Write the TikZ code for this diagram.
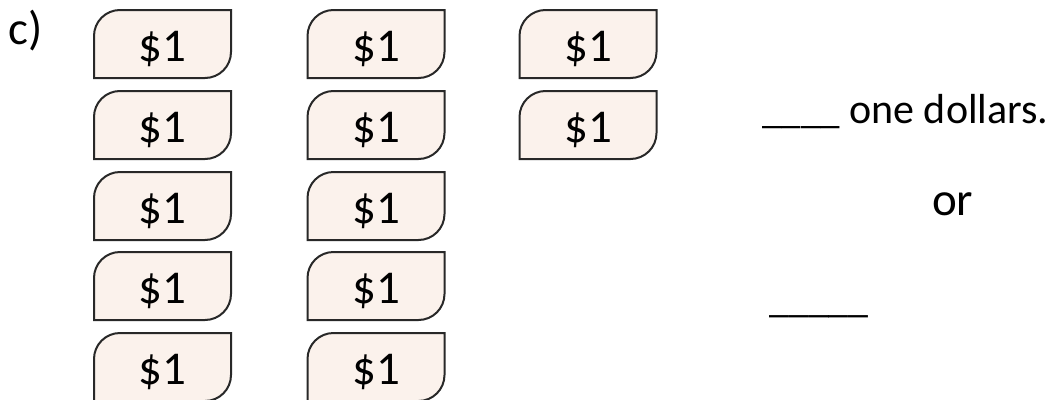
\documentclass[tikz,border=0pt]{standalone}
\usepackage{fontspec}
\setmainfont{Carlito}
\usetikzlibrary{backgrounds}
\definecolor{billfill}{RGB}{251,242,236}
\definecolor{billline}{RGB}{40,40,40}
\tikzset{bill/.style={minimum width=137pt,minimum height=68pt,inner sep=0pt,outer sep=0pt,
		text height=34pt,text depth=0pt,font=\fontsize{47}{56}\selectfont},
	billedge/.style={draw=billline,fill=billfill,line width=2pt},
	words/.style={inner sep=0pt,anchor=base west}}
\newcommand{\billoutline}[1]{%
	\path[billedge] (#1.south west) -- ([yshift=-26pt]#1.north west)
		arc[start angle=180,end angle=90,radius=26pt] -- (#1.north east)
		-- ([yshift=26pt]#1.south east) arc[start angle=0,end angle=-90,radius=26pt] -- cycle;}

\begin{document}
\begin{tikzpicture}[x=1pt,y=-1pt]
			\useasboundingbox (0,0) rectangle (1052,399);
			\node[words,font=\fontsize{47}{56}\selectfont] (part) at (8,44) {c)};
		
			\node[bill] (a1) at (162.5,44) {\$1};
			\node[bill] (a2) at (162.5,125) {\$1};
			\node[bill] (a3) at (162.5,206) {\$1};
			\node[bill] (a4) at (162.5,286) {\$1};
			\node[bill] (a5) at (162.5,367) {\$1};
			\node[bill] (b1) at (376,44) {\$1};
			\node[bill] (b2) at (376,125) {\$1};
			\node[bill] (b3) at (376,206) {\$1};
			\node[bill] (b4) at (376,286) {\$1};
			\node[bill] (b5) at (376,367) {\$1};
			\node[bill] (c1) at (588,44) {\$1};
			\node[bill] (c2) at (588,125) {\$1};
		
			\node[words,font=\fontsize{42}{50}\selectfont] (ones) at (762,123)
				{{\fontsize{39}{46}\selectfont\_\_\_\_} one dollars.};
			\node[words,font=\fontsize{47}{56}\selectfont] (or) at (932,215) {or};
			\node[words,font=\fontsize{40}{48}\selectfont] (total) at (769,312) {\_\_\_\_\_};
		
			\begin{scope}[on background layer]
				\foreach \b in {a1,a2,a3,a4,a5,b1,b2,b3,b4,b5,c1,c2}
					\billoutline{\b};
			\end{scope}
		\end{tikzpicture}
\end{document}
